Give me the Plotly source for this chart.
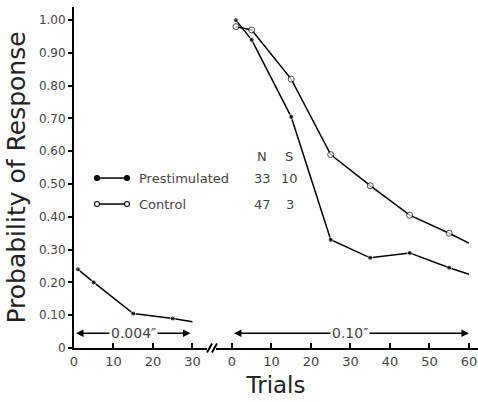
import plotly.graph_objects as go

# ---- data ----
left_trials = [1, 5, 15, 25, 30]
left_prestim = [0.24, 0.20, 0.105, 0.09, 0.08]
left_marker = [1, 1, 1, 1, 0]

right_trials = [1, 5, 15, 25, 35, 45, 55, 60]
right_prestim = [1.00, 0.94, 0.705, 0.33, 0.275, 0.29, 0.245, 0.225]
right_control = [0.98, 0.97, 0.82, 0.59, 0.495, 0.405, 0.35, 0.32]
right_marker = [1, 1, 1, 1, 1, 1, 1, 0]

left_ticks = [0, 10, 20, 30]
right_ticks = [0, 10, 20, 30, 40, 50, 60]
y_ticks = [0, 0.1, 0.2, 0.3, 0.4, 0.5, 0.6, 0.7, 0.8, 0.9, 1.0]
y_ticklabels = ["0", "0.10", "0.20", "0.30", "0.40", "0.50", "0.60", "0.70", "0.80", "0.90", "1.00"]

groups = ["Prestimulated", "Control"]
group_N = [33, 47]
group_S = [10, 3]

OFFSET = 40  # axis break: right segment drawn after a gap

FONT = "DejaVu Sans"
TXT = "#444444"
MS = 5

fig = go.Figure()

fig.add_trace(go.Scatter(
    x=left_trials, y=left_prestim, mode="lines+markers",
    line=dict(color="black", width=1.5),
    marker=dict(color="black", size=[MS * m for m in left_marker]),
    showlegend=False, cliponaxis=False, hoverinfo="skip"))

fig.add_trace(go.Scatter(
    x=[t + OFFSET for t in right_trials], y=right_prestim, mode="lines+markers",
    line=dict(color="black", width=1.5),
    marker=dict(color="black", size=[MS * m for m in right_marker]),
    showlegend=False, cliponaxis=False, hoverinfo="skip"))

fig.add_trace(go.Scatter(
    x=[t + OFFSET for t in right_trials], y=right_control, mode="lines+markers",
    line=dict(color="black", width=1.5),
    marker=dict(color="white", size=[6 * m for m in right_marker],
                line=dict(color="black", width=1)),
    showlegend=False, cliponaxis=False, hoverinfo="skip"))

tickvals = left_ticks + [t + OFFSET for t in right_ticks]
ticktext = [str(t) for t in left_ticks] + [str(t) for t in right_ticks]

fig.update_layout(
    width=478, height=402,
    margin=dict(l=74, r=0, t=7, b=54),
    paper_bgcolor="white", plot_bgcolor="white",
    font=dict(family=FONT, color=TXT),
    xaxis=dict(range=[0, 102.3], showgrid=False, zeroline=False,
               showline=True, linecolor="black", linewidth=2,
               ticks="inside", ticklen=5, tickwidth=1.5, tickcolor="black",
               tickvals=tickvals, ticktext=ticktext,
               tickfont=dict(size=13, color=TXT, family=FONT),
               title=dict(text="Trials", font=dict(size=23, color="#222", family=FONT), standoff=9)),
    yaxis=dict(range=[0, 1.04], showgrid=False, zeroline=False,
               showline=True, linecolor="black", linewidth=2,
               ticks="outside", ticklen=4, tickwidth=1.5, tickcolor="black",
               tickvals=y_ticks, ticktext=y_ticklabels,
               tickfont=dict(size=12, color=TXT, family=FONT),
               title=dict(text="Probability of Response", font=dict(size=25, color="#222", family=FONT), standoff=6)),
)

# axis break marks
fig.add_shape(type="rect", xref="paper", yref="paper",
              x0=(207 - 74) / 404, x1=(216 - 74) / 404, y0=-0.01, y1=0.01,
              fillcolor="white", line=dict(width=0), layer="above")
for px in (207, 212):
    fig.add_shape(type="line", xref="paper", yref="paper",
                  x0=(px - 74) / 404, x1=(px + 5 - 74) / 404,
                  y0=-0.013, y1=0.013, line=dict(color="black", width=2))

# range arrows
def range_arrow(x0, x1, xmid, label):
    y = 0.045
    for head in (x0, x1):
        fig.add_annotation(x=head, y=y, ax=xmid, ay=y, xref="x", yref="y",
                           axref="x", ayref="y", text="", showarrow=True,
                           arrowhead=2, arrowsize=1, arrowwidth=1.5, arrowcolor="black")
    fig.add_annotation(x=xmid, y=y, xref="x", yref="y", text=label, showarrow=False,
                       bgcolor="white", font=dict(size=14, color=TXT))

range_arrow(0.5, 29.5, 15, "0.004\u2033")
range_arrow(0.5 + OFFSET, 60 + OFFSET, 30 + OFFSET, "0.10\u2033")

# legend block
fig.add_annotation(x=(262 - 74) / 3.95, y=(348 - 156) / 328, xref="x", yref="y",
                   text="N", showarrow=False, font=dict(size=13, color=TXT))
fig.add_annotation(x=(289 - 74) / 3.95, y=(348 - 156) / 328, xref="x", yref="y",
                   text="S", showarrow=False, font=dict(size=13, color=TXT))
leg_y = [(348 - 178) / 328, (348 - 204) / 328]
fills = ["black", "white"]
for i, g in enumerate(groups):
    yy = leg_y[i]
    x0, x1 = (97 - 74) / 3.95, (127 - 74) / 3.95
    fig.add_shape(type="line", xref="x", yref="y", x0=x0, x1=x1, y0=yy, y1=yy,
                  line=dict(color="black", width=1.5))
    for xc in (x0, x1):
        fig.add_shape(type="circle", xref="x", yref="y", xsizemode="pixel", ysizemode="pixel",
                      xanchor=xc, yanchor=yy, x0=-2.5, x1=2.5, y0=-2.5, y1=2.5,
                      fillcolor=fills[i], line=dict(color="black", width=1.1))
    fig.add_annotation(x=(137 - 74) / 3.95, y=yy, xref="x", yref="y", text=g,
                       xanchor="left", showarrow=False, font=dict(size=13, color=TXT))
    fig.add_annotation(x=(263 - 74) / 3.95, y=yy, xref="x", yref="y", text=str(group_N[i]),
                       showarrow=False, font=dict(size=13, color=TXT))
    fig.add_annotation(x=(290 - 74) / 3.95, y=yy, xref="x", yref="y", text=str(group_S[i]),
                       showarrow=False, font=dict(size=13, color=TXT))

fig.write_html("out.html", config={"displayModeBar": False},
               post_script="document.body.style.margin='0px';")
